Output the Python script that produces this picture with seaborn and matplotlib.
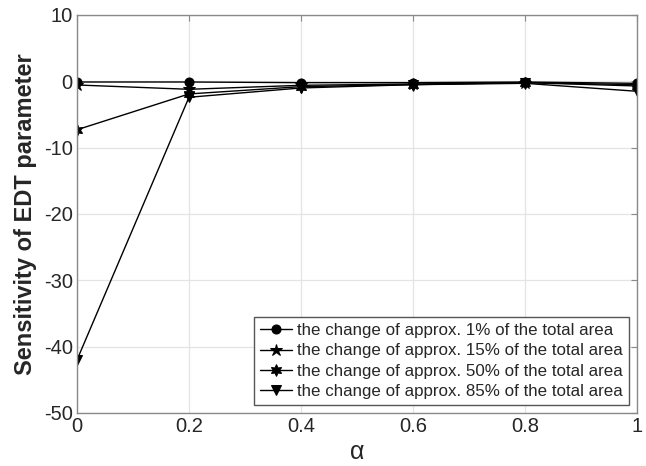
import numpy as np
import pandas as pd
import matplotlib
matplotlib.use("Agg")
import matplotlib.pyplot as plt
import seaborn as sns

alpha = [0.0, 0.2, 0.4, 0.6, 0.8, 1.0]
series_names = [
    "the change of approx. 1% of the total area",
    "the change of approx. 15% of the total area",
    "the change of approx. 50% of the total area",
    "the change of approx. 85% of the total area",
]
sens_1 = [-0.1, -0.1, -0.2, -0.2, -0.1, -0.3]
sens_15 = [-0.55, -1.2, -0.6, -0.4, -0.2, -0.5]
sens_50 = [-7.3, -1.9, -0.8, -0.5, -0.2, -0.7]
sens_85 = [-42.0, -2.4, -1.0, -0.5, -0.3, -1.5]
y_ticks = [-50, -40, -30, -20, -10, 0, 10]
x_ticks = [0, 0.2, 0.4, 0.6, 0.8, 1]
x_tick_labels = ["0", "0.2", "0.4", "0.6", "0.8", "1"]

sns.set_style("white")
plt.rcParams["font.family"] = ["Liberation Sans", "DejaVu Sans"]
plt.rcParams["axes.unicode_minus"] = False

df = pd.concat([
    pd.DataFrame({"alpha": alpha, "value": vals, "series": name})
    for name, vals in zip(series_names, [sens_1, sens_15, sens_50, sens_85])
])

W, H = 646, 466
fig = plt.figure(figsize=(W / 100, H / 100), dpi=100)
left, right, top, bottom = 77, 637, 15, 413
ax = fig.add_axes([left / W, 1 - bottom / H, (right - left) / W, (bottom - top) / H])

markers = {
    series_names[0]: "o",
    series_names[1]: "*",
    series_names[2]: (6, 1, 0),
    series_names[3]: "v",
}
sizes = {series_names[0]: 6.5, series_names[1]: 9, series_names[2]: 8.5, series_names[3]: 6.5}

for name in series_names:
    sub = df[df["series"] == name]
    sns.lineplot(data=sub, x="alpha", y="value", ax=ax, color="black",
                 marker=markers[name], markersize=sizes[name],
                 markeredgecolor="black", markerfacecolor="black",
                 linewidth=1.0, label=name, estimator=None)

ax.set_xlim(0, 1)
ax.set_ylim(-50, 10)
ax.set_xticks(x_ticks)
ax.set_xticklabels(x_tick_labels)
ax.set_yticks(y_ticks)
ax.grid(True, color="#e4e4e4", linewidth=0.9)
ax.set_axisbelow(True)
for s in ax.spines.values():
    s.set_color("#8a8a8a")
    s.set_linewidth(1.0)
ax.tick_params(direction="in", length=4, width=0.8, color="#8a8a8a",
               labelsize=14.5, top=True, right=True, pad=3)

ax.set_xlabel("α", fontsize=18, labelpad=3)
ax.set_ylabel("Sensitivity of EDT parameter", fontsize=17, fontweight="bold", labelpad=5)

leg = ax.legend(loc="lower right", fontsize=12.2, frameon=True, fancybox=False,
                edgecolor="#555555", framealpha=1, borderpad=0.35,
                labelspacing=0.3, handlelength=1.85, handletextpad=0.3,
                borderaxespad=0.5)
leg.get_frame().set_linewidth(1.0)

fig.savefig("out.png", dpi=100)
